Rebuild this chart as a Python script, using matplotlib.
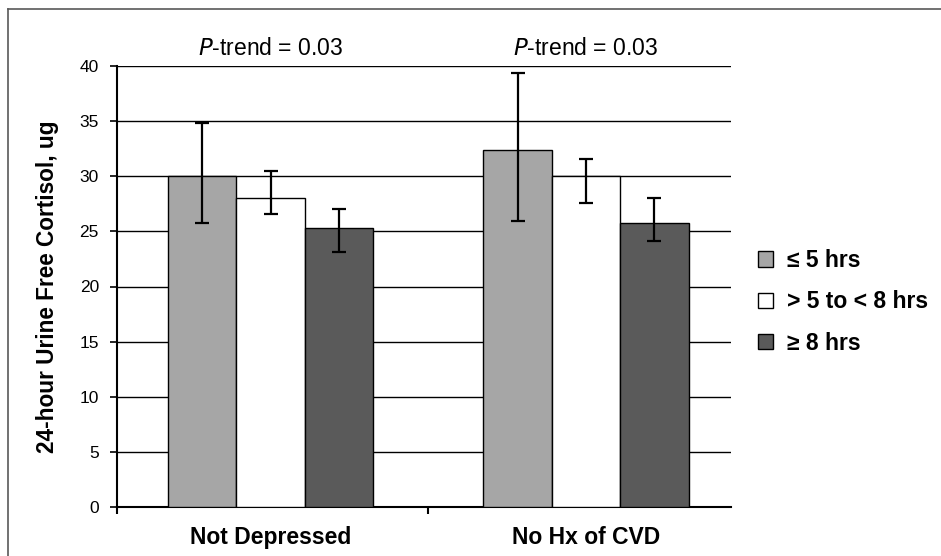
import matplotlib
matplotlib.use("Agg")
import matplotlib.pyplot as plt
from matplotlib.lines import Line2D
import numpy as np

plt.rcParams['font.family'] = ['Liberation Sans', 'DejaVu Sans']

groups = ["Not Depressed", "No Hx of CVD"]
labels = ["\u2264 5 hrs", "> 5 to < 8 hrs", "\u2265 8 hrs"]
colors = ["#a6a6a6", "#ffffff", "#5a5a5a"]

# means and CI bounds (ug)
short_vals = [30.0, 32.4]
short_lo = [25.8, 25.9]
short_hi = [34.8, 39.4]
mid_vals = [28.0, 30.0]
mid_lo = [26.6, 27.6]
mid_hi = [30.5, 31.6]
long_vals = [25.3, 25.8]
long_lo = [23.1, 24.1]
long_hi = [27.0, 28.0]
trend_text = ["P-trend = 0.03", "P-trend = 0.03"]

fig = plt.figure(figsize=(9.41, 5.56), dpi=100)
ax = fig.add_axes([117/941, 1-507/556, 614/941, (507-66)/556])

x = np.arange(len(groups))
w = 0.217
series = [(short_vals, short_lo, short_hi), (mid_vals, mid_lo, mid_hi), (long_vals, long_lo, long_hi)]
for i, (vals, lo, hi) in enumerate(series):
    pos = x + (i-1)*w
    vals = np.array(vals)
    err = [vals-np.array(lo), np.array(hi)-vals]
    ax.bar(pos, vals, w, color=colors[i], edgecolor="black", linewidth=1.0, label=labels[i], zorder=3)
    ax.errorbar(pos, vals, yerr=err, fmt="none", ecolor="black", elinewidth=1.6, capsize=4.8, capthick=1.6, zorder=4)

ax.set_ylim(0, 40)
ax.set_xlim(-0.487, 1.46)
ax.set_yticks(range(0, 41, 5))
ax.yaxis.grid(True, color="black", linewidth=1.0)
ax.set_axisbelow(True)
for s in ["top", "right"]:
    ax.spines[s].set_visible(False)
for s in ["left", "bottom"]:
    ax.spines[s].set_linewidth(1.5)
ax.tick_params(axis="y", direction="out", length=5, width=1.2, labelsize=12.5, pad=8)
ax.set_xticks(x)
ax.set_xticklabels(groups, fontsize=16.5, fontweight="bold")
ax.tick_params(axis="x", which="major", length=0, pad=14)
ax.set_xticks([-0.487, 0.5], minor=True)
ax.tick_params(axis="x", which="minor", direction="out", length=5, width=1.5)
ax.set_ylabel("24-hour Urine Free Cortisol, ug", fontsize=16.3, fontweight="bold", labelpad=15)

for xi, t in zip(x, trend_text):
    ax.text(xi, 41.6, "$\\it{P}$" + t[1:], ha="center", va="center", fontsize=16.5)

leg = ax.legend(loc="center left", bbox_to_anchor=(758/941, 1-302/556), bbox_transform=fig.transFigure,
                frameon=False, borderpad=0, borderaxespad=0, handlelength=0.65, handleheight=0.65,
                handletextpad=0.6, labelspacing=0.8, prop={"size": 16.5, "weight": "bold"})

fig.add_artist(Line2D([8/941, 1], [1-9/556, 1-9/556], color="#595959", linewidth=1.2, transform=fig.transFigure))
fig.add_artist(Line2D([8/941, 8/941], [0, 1-9/556], color="#595959", linewidth=1.2, transform=fig.transFigure))

fig.savefig("out.png", dpi=100)
